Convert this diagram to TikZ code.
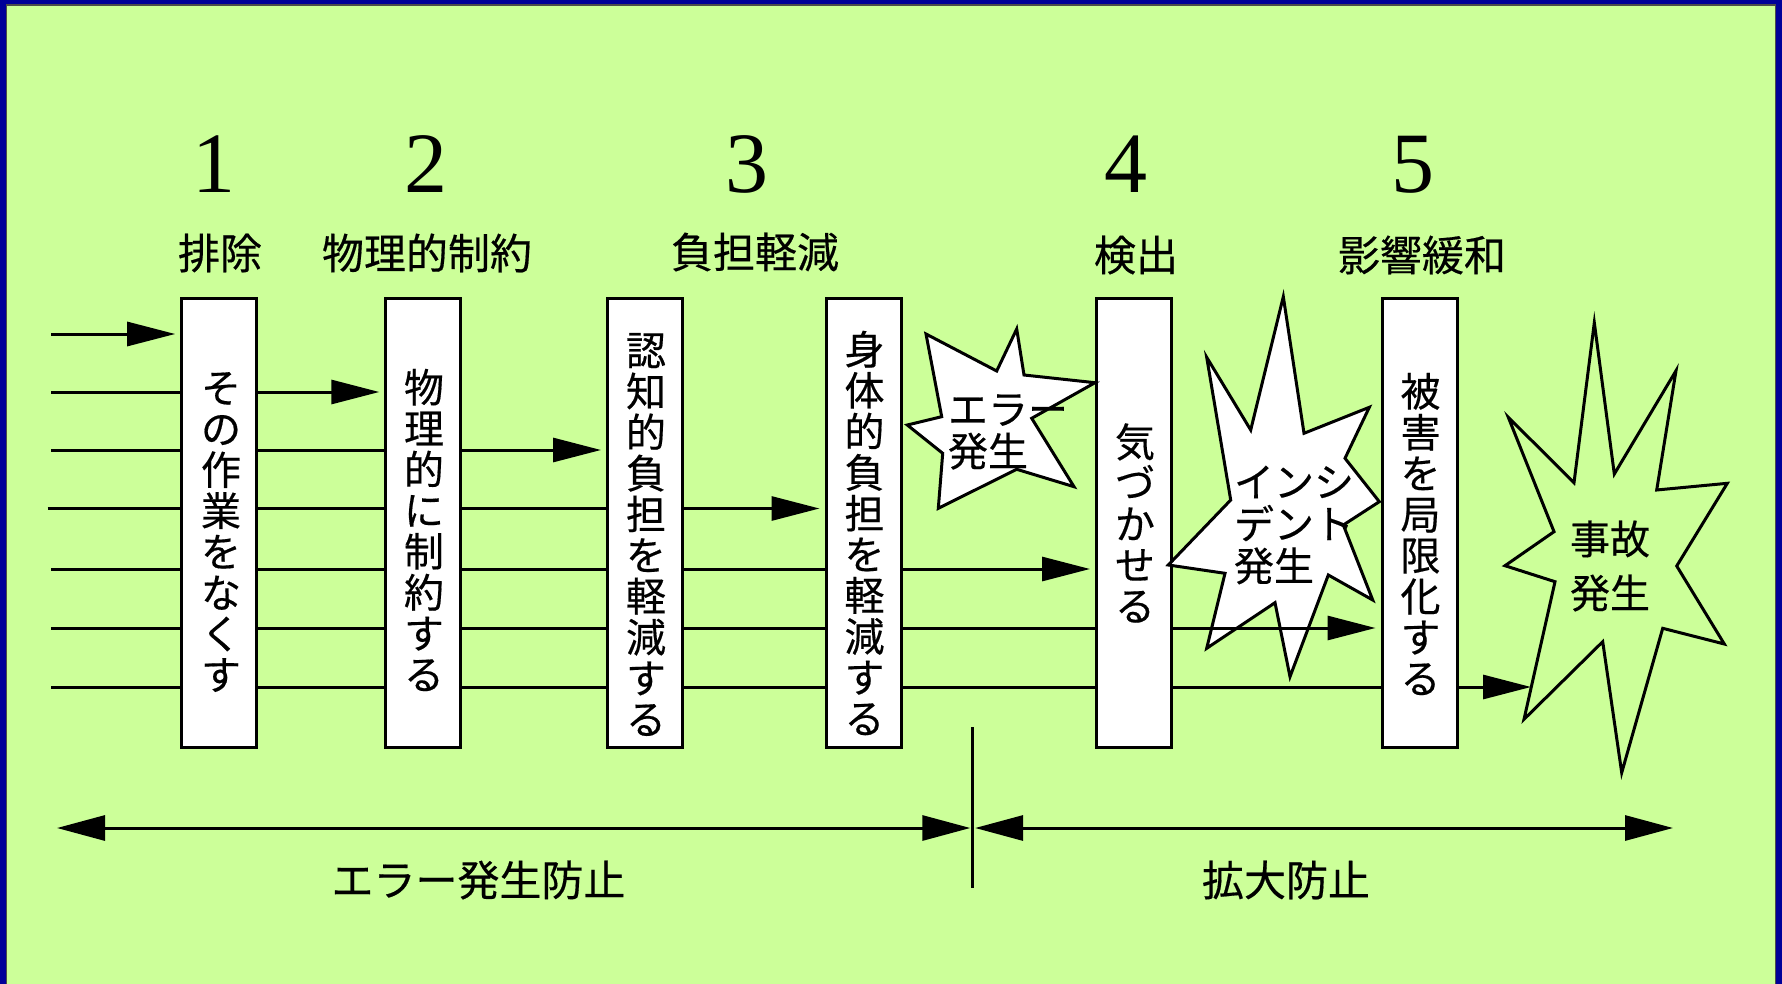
\documentclass[tikz,border=0pt]{standalone}
\usepackage{fontspec}
\setmainfont{Noto Sans CJK JP}[FakeBold=0.4]
\newfontfamily\numfont{Liberation Serif}
\usetikzlibrary{arrows.meta}
\definecolor{bgc}{RGB}{204,255,153}
\definecolor{bdc}{RGB}{0,0,153}
\pgfdeclarelayer{back}
\pgfdeclarelayer{lines}
\pgfsetlayers{back,lines,main}
\begin{document}
\begin{tikzpicture}[x=0.5pt,y=-0.5pt,
  lw/.style={line width=1.5pt},
  arr/.style={lw,-{Triangle[length=24pt,width=12pt]},shorten >=2.5pt},
  darr/.style={lw,{Triangle[length=24pt,width=12.5pt]}-{Triangle[length=24pt,width=12.5pt]}},
  stepbox/.style={draw,lw,fill=white,minimum width=37.5pt,minimum height=224.5pt,inner sep=0pt},
  vtext/.style={align=center,inner sep=0pt,font=\fontsize{20}{20.5}\selectfont},
  cat/.style={inner sep=0pt,font=\fontsize{21}{21}\selectfont},
  num/.style={inner sep=0pt,anchor=base,font=\numfont\fontsize{43}{43}\selectfont},
  startext/.style={align=left,inner sep=0pt,font=\fontsize{20}{21}\selectfont},
  starline/.style={lw,line join=miter,miter limit=20}
]
\useasboundingbox (0,0) rectangle (1782,984);
\begin{pgfonlayer}{back}
  \fill[bdc] (0,0) rectangle (1782,984);
  \fill[bgc] (6,4.5) rectangle (1776,984);
  \draw[black!70,line width=0.7pt] (6.5,984) -- (6.5,5) -- (1775.5,5) -- (1775.5,984);
\end{pgfonlayer}

% boxes
\node[stepbox] (b1) at (219.2,522.5) {};
\node[stepbox] (b2) at (423.3,522.5) {};
\node[stepbox] (b3) at (645,522.5) {};
\node[stepbox] (b4) at (863.5,522.5) {};
\node[stepbox] (b5) at (1134,522.5) {};
\node[stepbox] (b6) at (1419.5,522.5) {};

% row start points
\coordinate (r1) at (51,334);
\coordinate (r2) at (51,392);
\coordinate (r3) at (51,450);
\coordinate (r4) at (47.7,508.5);
\coordinate (r5) at (51,569);
\coordinate (r6) at (51,628);
\coordinate (r7) at (51,687);
\coordinate (acc) at (1531,687);

\begin{pgfonlayer}{lines}
  \draw[arr] (r1) -- (r1 -| b1.west);
  \draw[arr] (r2) -- (r2 -| b2.west);
  \draw[arr] (r3) -- (r3 -| b3.west);
  \draw[arr] (r4) -- (r4 -| b4.west);
  \draw[arr] (r5) -- (r5 -| b5.west);
  \draw[lw] (r6) -- (r6 -| b5.east);
  \draw[arr,shorten >=0pt] (r7) -- (acc);
\end{pgfonlayer}

% stars
\draw[starline,fill=white] (926,334) -- (996.7,371) -- (1016.7,329) -- (1024,375) -- (1095,382.7)
  -- (1031.7,418.3) -- (1074,486.7) -- (1016.7,469.3) -- (938.3,508.3) -- (942.7,453.3)
  -- (907.3,425) -- (941.7,416.7) -- cycle;
\draw[starline,fill=white] (1283.3,296.7) -- (1304,433.3) -- (1369.3,407.3) -- (1345,458.3)
  -- (1379.3,501.7) -- (1343.3,525) -- (1372.7,600) -- (1328.3,575) -- (1290,676.7)
  -- (1275,602.7) -- (1206.7,648.3) -- (1225,573.3) -- (1168.3,565) -- (1230.7,500)
  -- (1206.7,357.3) -- (1250.7,430) -- cycle;
\draw[starline] (1594.3,322.7) -- (1614.3,474) -- (1676,370.7) -- (1656.7,490) -- (1727.3,483.3)
  -- (1676.7,566) -- (1724.3,644) -- (1662.7,628.3) -- (1621.7,772.7) -- (1602.7,641.7)
  -- (1524,719.3) -- (1555,581.7) -- (1505,565.7) -- (1554,531.7) -- (1508.3,417.3)
  -- (1574,482.7) -- cycle;

\draw[arr] (b5.east |- r6) -- (r6 -| b6.west);

% box texts
\node[vtext] (t1) at (221,532) {そ\\の\\作\\業\\を\\な\\く\\す};
\node[vtext] (t2) at (424,530) {物\\理\\的\\に\\制\\約\\す\\る};
\node[vtext] (t3) at (646,534.5) {認\\知\\的\\負\\担\\を\\軽\\減\\す\\る};
\node[vtext] (t4) at (864.5,533) {身\\体\\的\\負\\担\\を\\軽\\減\\す\\る};
\node[vtext] (t5) at (1135,523) {気\\づ\\か\\せ\\る};
\node[vtext] (t6) at (1420.5,534) {被\\害\\を\\局\\限\\化\\す\\る};

% star texts
\node[startext] (e) at (1008,432) {エラー\\発生};
\node[startext] (inc) at (1294,525) {インシ\\デント\\発生};
\node[startext,font=\fontsize{20}{27}\selectfont] (ac) at (1610,566) {事故\\発生};

% numbers
\node[num] (n1) at (213.7,193) {1};
\node[num] (n2) at (426.2,193) {2};
\node[num] (n3) at (746.7,193) {3};
\node[num] (n4) at (1126.3,193) {4};
\node[num] (n5) at (1412.7,193) {5};

% category labels
\node[cat] (c1) at (220,253) {排除};
\node[cat] (c2) at (427,253) {物理的制約};
\node[cat] (c3) at (755,252) {負担軽減};
\node[cat] (c4) at (1136,255) {検出};
\node[cat] (c5) at (1422,255) {影響緩和};

% bottom
\coordinate (la) at (57,828);
\coordinate (dv) at (972.7,828);
\coordinate (ra) at (1673,828);
\coordinate (dt) at (972.7,727);
\coordinate (db) at (972.7,888);
\draw[line width=1.3pt] (dt) -- (db);
\draw[darr] (la) -- ([xshift=-1.2pt]dv);
\draw[darr] ([xshift=1.2pt]dv) -- (ra);
\node[cat] (l1) at (478.5,880) {エラー発生防止};
\node[cat] (l2) at (1286,880) {拡大防止};
\end{tikzpicture}
\end{document}
